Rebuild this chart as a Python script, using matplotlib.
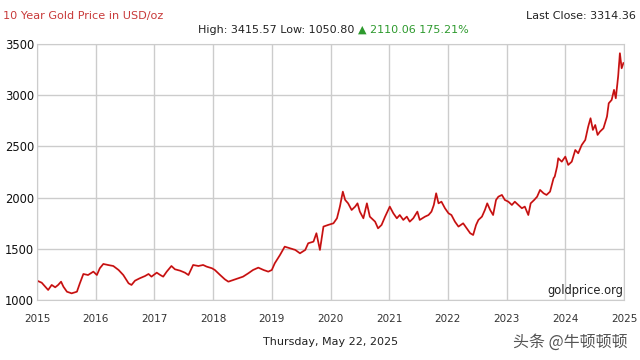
"""10 year gold price chart (goldprice.org style)."""

import matplotlib

matplotlib.use("Agg")
import matplotlib.pyplot as plt

# values (x in axis years, price in USD/oz)
years = [
    2015.00, 2015.08, 2015.14, 2015.19, 2015.25, 2015.31, 2015.36, 2015.41, 2015.45, 2015.51,
    2015.59, 2015.68, 2015.73, 2015.79, 2015.87, 2015.96, 2016.02, 2016.07, 2016.13, 2016.21,
    2016.30, 2016.39, 2016.47, 2016.56, 2016.61, 2016.67, 2016.75, 2016.84, 2016.90, 2016.95,
    2017.04, 2017.10, 2017.15, 2017.21, 2017.29, 2017.35, 2017.44, 2017.52, 2017.58, 2017.66,
    2017.75, 2017.83, 2017.89, 2017.98, 2018.03, 2018.12, 2018.20, 2018.26, 2018.34, 2018.43,
    2018.51, 2018.60, 2018.68, 2018.77, 2018.86, 2018.94, 2019.00, 2019.05, 2019.14, 2019.22,
    2019.31, 2019.40, 2019.48, 2019.57, 2019.62, 2019.71, 2019.76, 2019.79, 2019.82, 2019.88,
    2019.96, 2020.05, 2020.11, 2020.16, 2020.21, 2020.25, 2020.30, 2020.36, 2020.42, 2020.46,
    2020.50, 2020.56, 2020.62, 2020.67, 2020.76, 2020.81, 2020.87, 2020.93, 2021.01, 2021.07,
    2021.13, 2021.18, 2021.24, 2021.30, 2021.35, 2021.41, 2021.48, 2021.52, 2021.61, 2021.67,
    2021.72, 2021.76, 2021.80, 2021.84, 2021.89, 2021.95, 2022.01, 2022.06, 2022.12, 2022.18,
    2022.26, 2022.32, 2022.38, 2022.43, 2022.48, 2022.52, 2022.58, 2022.63, 2022.67, 2022.72,
    2022.77, 2022.82, 2022.86, 2022.92, 2022.97, 2023.03, 2023.09, 2023.14, 2023.20, 2023.26,
    2023.31, 2023.37, 2023.41, 2023.47, 2023.52, 2023.57, 2023.63, 2023.68, 2023.74, 2023.80,
    2023.82, 2023.86, 2023.88, 2023.94, 2024.00, 2024.05, 2024.11, 2024.17, 2024.22, 2024.28,
    2024.34, 2024.39, 2024.43, 2024.47, 2024.51, 2024.55, 2024.59, 2024.65, 2024.71, 2024.74,
    2024.79, 2024.83, 2024.86, 2024.90, 2024.93, 2024.96, 2024.99,
]
prices = [
    1189, 1169, 1130, 1098, 1147, 1124, 1147, 1179, 1130, 1081,
    1065, 1081, 1163, 1254, 1244, 1277, 1244, 1310, 1352, 1342,
    1332, 1293, 1244, 1163, 1147, 1189, 1212, 1234, 1254, 1228,
    1267, 1244, 1228, 1277, 1332, 1300, 1286, 1267, 1244, 1342,
    1332, 1342, 1326, 1310, 1293, 1244, 1202, 1179, 1195, 1212,
    1228, 1261, 1293, 1316, 1293, 1277, 1293, 1358, 1440, 1521,
    1505, 1489, 1456, 1489, 1554, 1570, 1652, 1570, 1489, 1717,
    1733, 1749, 1798, 1912, 2058, 1977, 1944, 1879, 1912, 1944,
    1863, 1798, 1944, 1814, 1765, 1700, 1733, 1814, 1912, 1847,
    1798, 1830, 1782, 1814, 1765, 1798, 1863, 1782, 1814, 1830,
    1863, 1928, 2042, 1944, 1960, 1896, 1847, 1830, 1765, 1717,
    1749, 1700, 1652, 1635, 1733, 1782, 1814, 1879, 1944, 1879,
    1830, 1977, 2009, 2026, 1977, 1960, 1928, 1960, 1928, 1896,
    1912, 1830, 1944, 1977, 2009, 2075, 2042, 2026, 2058, 2189,
    2205, 2303, 2384, 2351, 2400, 2319, 2351, 2465, 2433, 2514,
    2563, 2693, 2775, 2661, 2709, 2612, 2644, 2677, 2791, 2921,
    2954, 3052, 2970, 3182, 3410, 3263, 3314,
]

year_ticks = list(range(2015, 2026))
price_ticks = [1000, 1500, 2000, 2500, 3000, 3500]

title = "10 Year Gold Price in USD/oz"
stats_text = "High: 3415.57 Low: 1050.80"
change_text = "\u25b2 2110.06 175.21%"
last_close = "Last Close: 3314.36"
date_text = "Thursday, May 22, 2025"
source = "goldprice.org"
watermark = "头条 @牛顿顿顿"

fig = plt.figure(figsize=(6.4, 3.6), dpi=100)
ax = fig.add_axes([37 / 640, 1 - 300 / 360, 587 / 640, 256 / 360])

ax.plot(years, prices, color="#e41c1c", lw=1.3)
ax.plot(years, prices, color="#7a0c0c", lw=0.4, alpha=0.7)

ax.set_xlim(2015, 2025)
ax.set_ylim(1000, 3500)
ax.set_xticks(year_ticks)
ax.set_yticks(price_ticks)
ax.grid(True, color="#cccccc", lw=1)
for s in ax.spines.values():
    s.set_color("#cccccc")
ax.tick_params(length=0)
ax.tick_params(axis="y", labelsize=8.3, pad=2, labelcolor="#111111")
ax.tick_params(axis="x", labelsize=7.5, pad=10, labelcolor="#333333")

ax.text(0.998, 0.01, source, transform=ax.transAxes, ha="right", va="bottom",
        fontsize=8.3, color="#222222")

fig.text(3 / 640, 1 - 16 / 360, title, ha="left", va="center", fontsize=8.1, color="#c83a3a")
fig.text(636 / 640, 1 - 16 / 360, last_close, ha="right", va="center", fontsize=8.0, color="#222222")
fig.text(354 / 640, 1 - 30 / 360, stats_text, ha="right", va="center", fontsize=8.0, color="#222222")
fig.text(358 / 640, 1 - 30 / 360, change_text, ha="left", va="center", fontsize=8.0, color="#2e9a2e")
fig.text(331 / 640, 1 - 342 / 360, date_text, ha="center", va="center", fontsize=8.0, color="#222222")
fig.text(628 / 640, 1 - 342 / 360, watermark, ha="right", va="center", fontsize=11.5,
         color="#555555", family=["Noto Sans CJK SC", "DejaVu Sans"])

fig.savefig("out.png", dpi=100)
plt.close(fig)
